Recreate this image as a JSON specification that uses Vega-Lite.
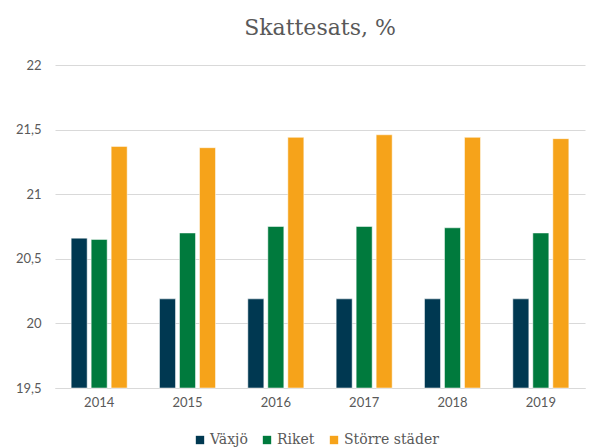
{
  "$schema": "https://vega.github.io/schema/vega-lite/v6.json",
  "width": 530,
  "height": 323,
  "autosize": "none",
  "padding": {"left": 55, "top": 65, "right": 4, "bottom": 60},
  "background": "white",
  "title": {
    "text": "Skattesats, %",
    "font": "DejaVu Serif",
    "fontSize": 22,
    "fontWeight": "normal",
    "color": "#595959",
    "anchor": "middle",
    "offset": 19
  },
  "data": {
    "values": [
      {"year": "2014", "series": "Växjö", "value": 20.66},
      {"year": "2014", "series": "Riket", "value": 20.65},
      {"year": "2014", "series": "Större städer", "value": 21.37},
      {"year": "2015", "series": "Växjö", "value": 20.19},
      {"year": "2015", "series": "Riket", "value": 20.70},
      {"year": "2015", "series": "Större städer", "value": 21.36},
      {"year": "2016", "series": "Växjö", "value": 20.19},
      {"year": "2016", "series": "Riket", "value": 20.75},
      {"year": "2016", "series": "Större städer", "value": 21.44},
      {"year": "2017", "series": "Växjö", "value": 20.19},
      {"year": "2017", "series": "Riket", "value": 20.75},
      {"year": "2017", "series": "Större städer", "value": 21.46},
      {"year": "2018", "series": "Växjö", "value": 20.19},
      {"year": "2018", "series": "Riket", "value": 20.74},
      {"year": "2018", "series": "Större städer", "value": 21.44},
      {"year": "2019", "series": "Växjö", "value": 20.19},
      {"year": "2019", "series": "Riket", "value": 20.70},
      {"year": "2019", "series": "Större städer", "value": 21.43}
    ]
  },
  "mark": {"type": "bar", "stroke": "white", "strokeWidth": 0.5},
  "encoding": {
    "x": {
      "field": "year",
      "type": "nominal",
      "title": null,
      "scale": {"paddingInner": 0.366, "paddingOuter": 0.183},
      "axis": {
        "labelAngle": 0,
        "labelFont": "Lato",
        "labelFontSize": 13,
        "labelColor": "#595959",
        "labelPadding": 8,
        "ticks": false,
        "domainColor": "#d9d9d9",
        "domainWidth": 1
      }
    },
    "xOffset": {
      "field": "series",
      "type": "nominal",
      "sort": ["Växjö", "Riket", "Större städer"],
      "scale": {"paddingInner": 0.2}
    },
    "y": {
      "field": "value",
      "type": "quantitative",
      "title": null,
      "scale": {"domain": [19.5, 22], "zero": false, "nice": false},
      "axis": {
        "values": [19.5, 20, 20.5, 21, 21.5, 22],
        "labelExpr": "replace(toString(datum.value), '.', ',')",
        "labelFont": "Lato",
        "labelFontSize": 13,
        "labelColor": "#595959",
        "labelPadding": 14,
        "ticks": false,
        "domain": false,
        "gridColor": "#d9d9d9",
        "gridWidth": 1
      }
    },
    "y2": {"datum": 19.5},
    "color": {
      "field": "series",
      "type": "nominal",
      "sort": ["Växjö", "Riket", "Större städer"],
      "scale": {
        "domain": ["Växjö", "Riket", "Större städer"],
        "range": ["#003851", "#007a3d", "#f6a31a"]
      },
      "legend": {
        "title": null,
        "orient": "none",
        "legendX": 138,
        "legendY": 368,
        "direction": "horizontal",
        "symbolType": "square",
        "symbolSize": 70,
        "symbolStrokeWidth": 0,
        "labelFont": "DejaVu Serif",
        "labelFontSize": 14,
        "labelColor": "#595959",
        "columnPadding": 12,
        "labelOffset": 3
      }
    }
  },
  "config": {"view": {"stroke": null}}
}
